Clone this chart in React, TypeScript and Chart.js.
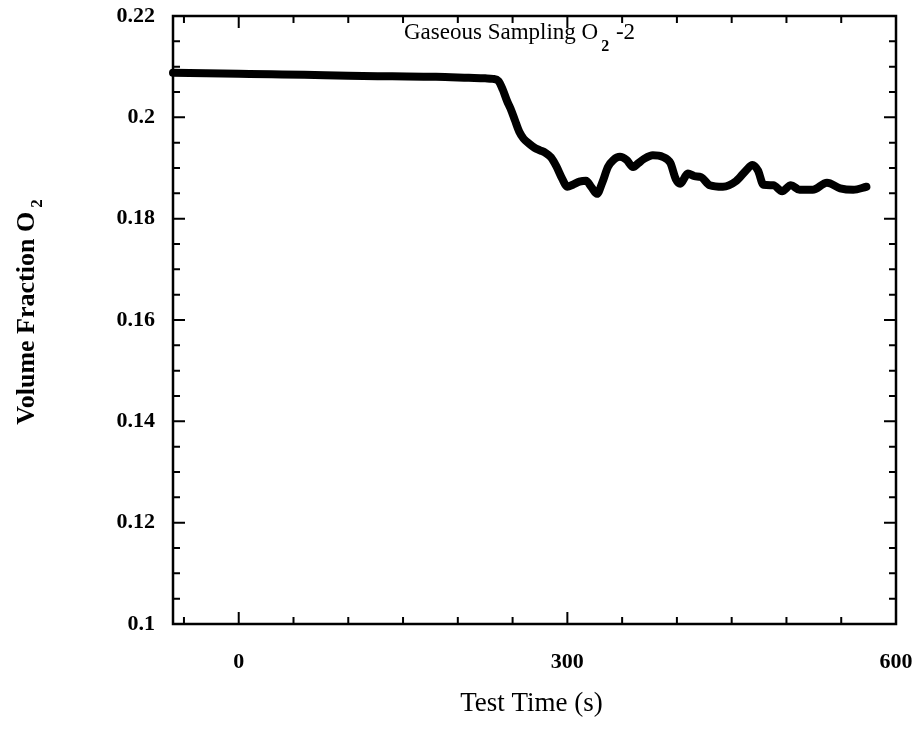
import React, { useEffect, useRef } from "react";
import { Chart, registerables } from "chart.js";

Chart.register(...registerables);

// ---- data ----
const timeS = [
  -60, -30, 0, 30, 60, 100, 140, 180, 210, 225, 232, 237, 241, 245, 248, 252, 256, 260, 265,
  270, 275, 280, 285, 290, 295, 300, 305, 311, 317, 322, 327, 332, 337, 342, 348, 354, 360,
  365, 370, 378, 387, 394, 399, 403, 410, 416, 422, 430, 442, 454, 463, 469, 474, 479, 488,
  496, 504, 512, 524, 537, 549, 561, 573,
];
const o2Fraction = [
  0.2088, 0.2087, 0.2086, 0.2085, 0.2084, 0.2082, 0.2081, 0.208, 0.2078, 0.2077, 0.2076,
  0.2072, 0.2055, 0.2032, 0.2018, 0.1995, 0.1972, 0.1958, 0.1948, 0.194, 0.1935, 0.193,
  0.1921, 0.1903, 0.188, 0.1863, 0.1867, 0.1873, 0.1875, 0.1862, 0.1849, 0.1872, 0.1902,
  0.1916, 0.1922, 0.1916, 0.1902, 0.191, 0.1918, 0.1925, 0.1922, 0.191, 0.1878, 0.1869,
  0.1889, 0.1884, 0.1882, 0.1866, 0.1863, 0.1874, 0.1895, 0.1906, 0.1895, 0.1867, 0.1866,
  0.1854, 0.1866, 0.1857, 0.1857, 0.1871, 0.186, 0.1857, 0.1863,
];
const xTickLabels = [0, 300, 600];
const xMinorTicks = [-50, 0, 50, 100, 150, 200, 250, 300, 350, 400, 450, 500, 550, 600];
const yMinorStep = 0.005;
const yMajorStep = 0.02;
const xRange = [-60, 600];
const yRange = [0.1, 0.22];

const titleMain = "Gaseous Sampling O";
const titleSub = "2";
const titleTail = " -2";
const xTitle = "Test Time (s)";
const yTitleMain = "Volume Fraction O";
const yTitleSub = "2";

const SERIF = "'Liberation Serif', 'Times New Roman', serif";

const framePlugin = {
  id: "framePlugin",
  afterDraw(chart: any) {
    const ctx: CanvasRenderingContext2D = chart.ctx;
    const { left, right, top, bottom } = chart.chartArea;
    const xs = chart.scales.x;
    const ys = chart.scales.y;
    ctx.save();
    ctx.strokeStyle = "#000";
    ctx.fillStyle = "#000";
    // frame
    ctx.lineWidth = 2.5;
    ctx.strokeRect(left, top, right - left, bottom - top);
    // x ticks (bottom + top, inward)
    ctx.lineWidth = 2;
    xMinorTicks.forEach((v) => {
      const px = xs.getPixelForValue(v);
      const len = xTickLabels.includes(v) ? 12 : 7;
      ctx.beginPath();
      ctx.moveTo(px, bottom);
      ctx.lineTo(px, bottom - len);
      ctx.moveTo(px, top);
      ctx.lineTo(px, top + len);
      ctx.stroke();
    });
    // y ticks (left + right, inward)
    const nSteps = Math.round((yRange[1] - yRange[0]) / yMinorStep);
    for (let i = 0; i <= nSteps; i++) {
      const v = yRange[0] + i * yMinorStep;
      const py = ys.getPixelForValue(v);
      const isMajor = i % Math.round(yMajorStep / yMinorStep) === 0;
      const len = isMajor ? 12 : 7;
      ctx.beginPath();
      ctx.moveTo(left, py);
      ctx.lineTo(left + len, py);
      ctx.moveTo(right, py);
      ctx.lineTo(right - len, py);
      ctx.stroke();
    }

    // chart title with subscript
    ctx.textBaseline = "alphabetic";
    ctx.textAlign = "left";
    ctx.font = `23px ${SERIF}`;
    let tx = 404;
    const ty = 39;
    ctx.fillText(titleMain, tx, ty);
    tx += ctx.measureText(titleMain).width + 3;
    ctx.font = `bold 16px ${SERIF}`;
    ctx.fillText(titleSub, tx, ty + 12);
    tx += ctx.measureText(titleSub).width + 1;
    ctx.font = `23px ${SERIF}`;
    ctx.fillText(titleTail, tx, ty);

    // x-axis title
    ctx.font = `27px ${SERIF}`;
    ctx.textAlign = "center";
    ctx.fillText(xTitle, (left + right) / 2 - 3, 711);

    // y-axis title (rotated) with subscript
    ctx.save();
    ctx.translate(34, 312);
    ctx.rotate(-Math.PI / 2);
    ctx.font = `bold 26px ${SERIF}`;
    const wMain = ctx.measureText(yTitleMain).width;
    ctx.font = `bold 17px ${SERIF}`;
    const wSub = ctx.measureText(yTitleSub).width;
    const total = wMain + 4 + wSub;
    ctx.textAlign = "left";
    ctx.font = `bold 26px ${SERIF}`;
    ctx.fillText(yTitleMain, -total / 2, 0);
    ctx.font = `bold 17px ${SERIF}`;
    ctx.fillText(yTitleSub, -total / 2 + wMain + 4, 8);
    ctx.restore();

    ctx.restore();
  },
};

export default function App() {
  const canvasRef = useRef<HTMLCanvasElement | null>(null);

  useEffect(() => {
    document.body.style.margin = "0";
    const canvas = canvasRef.current;
    if (!canvas) return;
    const points = timeS.map((t, i) => ({ x: t, y: o2Fraction[i] }));
    const chart = new Chart(canvas, {
      type: "line",
      data: {
        datasets: [
          {
            data: points,
            borderColor: "#000",
            backgroundColor: "#000",
            borderWidth: 8,
            borderCapStyle: "round",
            borderJoinStyle: "round",
            pointRadius: 0,
            cubicInterpolationMode: "monotone",
            fill: false,
            clip: 6,
          } as any,
        ],
      },
      options: {
        animation: false,
        responsive: false,
        devicePixelRatio: 1,
        layout: { padding: { top: 16, right: 22, left: 0, bottom: 0 } },
        plugins: {
          legend: { display: false },
          tooltip: { enabled: false },
          title: { display: false },
        },
        scales: {
          x: {
            type: "linear",
            min: xRange[0],
            max: xRange[1],
            grid: { display: false, drawTicks: false },
            border: { display: false },
            afterBuildTicks: (scale: any) => {
              scale.ticks = xTickLabels.map((v) => ({ value: v }));
            },
            afterFit: (scale: any) => {
              scale.height = 113;
              scale.paddingLeft = 0;
              scale.paddingRight = 0;
            },
            ticks: {
              autoSkip: false,
              maxRotation: 0,
              padding: 25,
              color: "#000",
              font: { family: SERIF, size: 22, weight: "bold" },
              callback: (v: any) => String(v),
            },
          },
          y: {
            type: "linear",
            min: yRange[0],
            max: yRange[1],
            grid: { display: false, drawTicks: false },
            border: { display: false },
            afterFit: (scale: any) => {
              scale.width = 173;
              scale.paddingTop = 0;
              scale.paddingBottom = 0;
            },
            ticks: {
              stepSize: yMajorStep,
              padding: 18,
              color: "#000",
              font: { family: SERIF, size: 22, weight: "bold" },
              callback: (v: any) => String(Number(Number(v).toFixed(2))),
            },
          },
        },
      },
      plugins: [framePlugin],
    });
    return () => chart.destroy();
  }, []);

  return (
    <div style={{ width: 918, height: 737, background: "#fff" }}>
      <canvas ref={canvasRef} width={918} height={737} style={{ display: "block" }} />
    </div>
  );
}
